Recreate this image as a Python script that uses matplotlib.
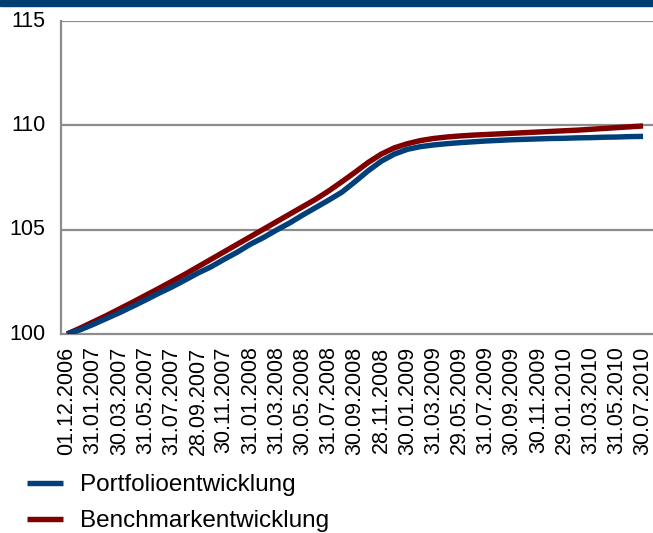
import matplotlib
matplotlib.use("Agg")
import matplotlib.pyplot as plt
from matplotlib.patches import Rectangle
from matplotlib.lines import Line2D

plt.rcParams['font.family'] = ['Liberation Sans', 'DejaVu Sans']

tick_labels = ["01.12.2006", "31.01.2007", "30.03.2007", "31.05.2007", "31.07.2007",
               "28.09.2007", "30.11.2007", "31.01.2008", "31.03.2008", "30.05.2008",
               "31.07.2008", "30.09.2008", "28.11.2008", "30.01.2009", "31.03.2009",
               "29.05.2009", "31.07.2009", "30.09.2009", "30.11.2009", "29.01.2010",
               "31.03.2010", "31.05.2010", "30.07.2010"]

portfolio = [100.00, 100.20, 100.46, 100.74, 101.02, 101.32, 101.63, 101.95, 102.25, 102.58,
             102.92, 103.22, 103.58, 103.92, 104.30, 104.62, 104.98, 105.32, 105.70, 106.06,
             106.42, 106.80, 107.30, 107.82, 108.28, 108.62, 108.85, 108.98, 109.06, 109.12,
             109.17, 109.21, 109.25, 109.28, 109.31, 109.33, 109.35, 109.37, 109.38, 109.40,
             109.41, 109.43, 109.44, 109.46, 109.47]

benchmark = [100.00, 100.28, 100.58, 100.88, 101.20, 101.52, 101.85, 102.18, 102.52, 102.86,
             103.22, 103.58, 103.94, 104.30, 104.66, 105.02, 105.38, 105.74, 106.10, 106.46,
             106.86, 107.30, 107.75, 108.22, 108.62, 108.92, 109.12, 109.27, 109.37, 109.44,
             109.49, 109.53, 109.56, 109.59, 109.62, 109.65, 109.68, 109.71, 109.74, 109.77,
             109.81, 109.85, 109.89, 109.93, 109.97]

series_names = ["Portfolioentwicklung", "Benchmarkentwicklung"]
colors = ["#00407a", "#800000"]
grid_color = "#8c8c8c"

W, H = 653, 533
fig = plt.figure(figsize=(W / 100, H / 100), dpi=100)

# top band
fig.patches.append(Rectangle((0, 1 - 6 / H), 1, 6 / H, transform=fig.transFigure,
                             color="#003d73", zorder=0))

ax = fig.add_axes([61 / W, 1 - 334 / H, (653 - 61) / W, (334 - 21) / H])
x = list(range(len(portfolio)))

ax.plot(x, benchmark, color=colors[1], lw=3.9, solid_capstyle='butt', zorder=3)
ax.plot(x, portfolio, color=colors[0], lw=3.9, solid_capstyle='butt', zorder=4)

ax.set_ylim(100, 115)
ax.set_yticks([100, 105, 110, 115])
ax.set_xlim(-0.46, 44.76)
ax.set_xticks(x[::2])
ax.set_xticklabels(tick_labels, rotation=90, fontsize=15.5)
ax.tick_params(axis='x', length=0, pad=9)
ax.tick_params(axis='y', length=0, pad=11, labelsize=15.5)
for lab in ax.get_yticklabels():
    lab.set_verticalalignment('center')

for v in [105, 110, 115]:
    ax.axhline(v, color=grid_color, lw=1.6, zorder=1)

for s in ['top', 'right']:
    ax.spines[s].set_visible(False)
for s in ['left', 'bottom']:
    ax.spines[s].set_color(grid_color)
    ax.spines[s].set_linewidth(1.6)
ax.spines['left'].set_bounds(100, 115)

handles = [Line2D([0], [0], color=colors[0], lw=3.9, solid_capstyle='butt'),
           Line2D([0], [0], color=colors[1], lw=3.9, solid_capstyle='butt')]
fig.legend(handles, series_names, loc='upper left', bbox_to_anchor=(27 / W, 1 - 474 / H),
           frameon=False, fontsize=17.5, handlelength=1.5, handletextpad=0.7,
           labelspacing=0.58, borderaxespad=0, borderpad=0)

fig.savefig("out.png", dpi=100)
